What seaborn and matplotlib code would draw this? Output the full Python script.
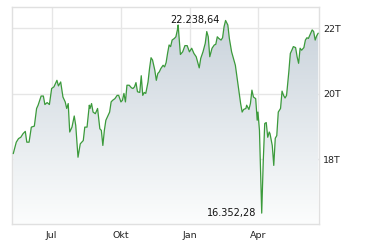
import numpy as np
import pandas as pd
import matplotlib
matplotlib.use("Agg")
import matplotlib.pyplot as plt
import matplotlib.dates as mdates
import seaborn as sns
from matplotlib.colors import LinearSegmentedColormap

dates = [
    "2024-05-11", "2024-05-15", "2024-05-18", "2024-05-21", "2024-05-24", "2024-05-27", "2024-05-29",
    "2024-06-01", "2024-06-04", "2024-06-08", "2024-06-11", "2024-06-13", "2024-06-17", "2024-06-20",
    "2024-06-22", "2024-06-25", "2024-06-28", "2024-07-01", "2024-07-04", "2024-07-08", "2024-07-10",
    "2024-07-13", "2024-07-16", "2024-07-19", "2024-07-21", "2024-07-23", "2024-07-25", "2024-07-28",
    "2024-07-31", "2024-08-02", "2024-08-05", "2024-08-08", "2024-08-12", "2024-08-14", "2024-08-17",
    "2024-08-20", "2024-08-21", "2024-08-23", "2024-08-25", "2024-08-28", "2024-08-31", "2024-09-03",
    "2024-09-05", "2024-09-07", "2024-09-09", "2024-09-11", "2024-09-14", "2024-09-16", "2024-09-18",
    "2024-09-20", "2024-09-23", "2024-09-26", "2024-09-28", "2024-10-01", "2024-10-03", "2024-10-05",
    "2024-10-07", "2024-10-09", "2024-10-12", "2024-10-15", "2024-10-17", "2024-10-19", "2024-10-21",
    "2024-10-23", "2024-10-26", "2024-10-28", "2024-10-30", "2024-11-01", "2024-11-03", "2024-11-06",
    "2024-11-08", "2024-11-10", "2024-11-12", "2024-11-15", "2024-11-17", "2024-11-19", "2024-11-21",
    "2024-11-23", "2024-11-26", "2024-11-28", "2024-11-30", "2024-12-02", "2024-12-04", "2024-12-06",
    "2024-12-08", "2024-12-11", "2024-12-13", "2024-12-15", "2024-12-16", "2024-12-19", "2024-12-22",
    "2024-12-25", "2024-12-28", "2024-12-31", "2025-01-03", "2025-01-06", "2025-01-09", "2025-01-13",
    "2025-01-15", "2025-01-18", "2025-01-21", "2025-01-23", "2025-01-25", "2025-01-27", "2025-01-30",
    "2025-02-02", "2025-02-04", "2025-02-06", "2025-02-08", "2025-02-11", "2025-02-13", "2025-02-15",
    "2025-02-17", "2025-02-20", "2025-02-22", "2025-02-25", "2025-02-28", "2025-03-02", "2025-03-05",
    "2025-03-07", "2025-03-09", "2025-03-11", "2025-03-13", "2025-03-16", "2025-03-17", "2025-03-20",
    "2025-03-22", "2025-03-24", "2025-03-26", "2025-03-29", "2025-03-31", "2025-04-01", "2025-04-03",
    "2025-04-06", "2025-04-08", "2025-04-10", "2025-04-12", "2025-04-14", "2025-04-16", "2025-04-17",
    "2025-04-20", "2025-04-22", "2025-04-24", "2025-04-26", "2025-04-28", "2025-05-01", "2025-05-03",
    "2025-05-05", "2025-05-07", "2025-05-09", "2025-05-12", "2025-05-14", "2025-05-16", "2025-05-18",
    "2025-05-21", "2025-05-23", "2025-05-25", "2025-05-27", "2025-05-29", "2025-06-01", "2025-06-03",
    "2025-06-05", "2025-06-07", "2025-06-10", "2025-06-12", "2025-06-14", "2025-06-16", "2025-06-18",
    "2025-06-20",
]

values = [
    18.17, 18.52, 18.63, 18.67, 18.78, 18.85, 18.52,
    18.52, 18.98, 19.01, 19.55, 19.65, 19.93, 19.93,
    19.67, 19.73, 19.67, 20.16, 20.21, 20.41, 20.24,
    20.36, 19.90, 19.75, 19.55, 19.70, 18.83, 18.98,
    19.32, 19.03, 18.06, 18.47, 18.57, 18.98, 18.98,
    19.65, 19.55, 19.70, 19.44, 19.39, 19.55, 18.93,
    18.88, 18.42, 18.88, 19.19, 19.34, 19.44, 19.75,
    19.80, 19.85, 19.95, 19.95, 19.75, 19.80, 20.01,
    19.75, 20.26, 20.26, 20.18, 20.16, 20.21, 20.34,
    20.06, 20.04, 20.55, 19.95, 20.04, 20.01, 20.36,
    20.77, 21.10, 21.03, 20.72, 20.41, 20.62, 20.67,
    20.77, 20.87, 20.82, 20.95, 21.24, 21.49, 21.44,
    21.64, 21.69, 21.74, 21.95, 22.10, 21.20, 21.28,
    21.47, 21.47, 21.28, 21.39, 21.23, 21.13, 20.79,
    21.08, 21.28, 21.54, 21.90, 21.74, 21.13, 21.39,
    21.49, 21.51, 21.74, 21.69, 21.64, 21.71, 22.05,
    22.23864, 22.10, 21.69, 21.28, 21.03, 20.87, 20.36,
    20.01, 19.70, 19.44, 19.52, 19.55, 19.65, 19.52,
    19.70, 20.11, 19.90, 19.85, 19.19, 19.44, 18.88,
    16.35228, 17.91, 19.09, 19.12, 18.67, 18.83, 18.78,
    18.42, 17.81, 18.64, 18.72, 19.44, 19.55, 20.08,
    19.95, 19.87, 19.95, 20.67, 21.23, 21.33, 21.44,
    21.41, 21.13, 20.93, 21.39, 21.33, 21.41, 21.64,
    21.71, 21.69, 21.85, 21.95, 21.90, 21.64, 21.77,
    21.85,
]

tick_dates = ["2024-07-01", "2024-10-01", "2025-01-01", "2025-04-01"]
tick_labels = ["Jul", "Okt", "Jan", "Apr"]
y_ticks = [18, 20, 22]
y_tick_labels = ["18T", "20T", "22T"]
max_label = "22.238,64"
min_label = "16.352,28"

df = pd.DataFrame({"date": pd.to_datetime(dates), "value": values})

sns.set_style("white")
plt.rcParams["font.family"] = ["DejaVu Sans"]

fig = plt.figure(figsize=(3.8, 2.5), dpi=100)
ax = fig.add_axes([12 / 380, 26 / 250, 307 / 380, 217 / 250])

x0 = pd.Timestamp("2024-05-09 08:00")
x1 = pd.Timestamp("2025-06-21 02:00")
y0, y1 = 16.02, 22.65
ax.set_xlim(x0, x1)
ax.set_ylim(y0, y1)

# gradient area fill
xn = mdates.date2num(df["date"])
poly = ax.fill_between(xn, df["value"], y0, facecolor="none", edgecolor="none")
cmap = LinearSegmentedColormap.from_list("g", ["#fcfdfd", "#c6d0d9"])
grad = np.linspace(0, 1, 256).reshape(-1, 1)
im = ax.imshow(grad, extent=[mdates.date2num(x0), mdates.date2num(x1), y0, y1],
               origin="lower", aspect="auto", cmap=cmap, zorder=1)
im.set_clip_path(poly.get_paths()[0], transform=ax.transData)

sns.lineplot(data=df, x="date", y="value", color="#3b9a3b", linewidth=0.9, ax=ax, zorder=3)

ax.set_xlabel("")
ax.set_ylabel("")
ax.set_xticks(pd.to_datetime(tick_dates))
ax.set_xticklabels(tick_labels)
ax.set_yticks(y_ticks)
ax.set_yticklabels(y_tick_labels)
ax.yaxis.tick_right()
ax.grid(True, color="#e6e6e6", linewidth=1, zorder=0)
ax.set_axisbelow(True)
for s in ax.spines.values():
    s.set_color("#e0e0e0")
    s.set_linewidth(1)
ax.tick_params(axis="x", length=2, color="#e0e0e0", pad=3, labelsize=6.8, labelcolor="#222222")
ax.tick_params(axis="y", length=0, pad=3, labelsize=6.8, labelcolor="#222222")

imax = df["value"].idxmax()
imin = df["value"].idxmin()
ax.annotate(max_label, xy=(df["date"][imax], df["value"][imax]), xytext=(-4, 0),
            textcoords="offset points", ha="right", va="center", fontsize=7, color="#111111", zorder=4)
ax.annotate(min_label, xy=(df["date"][imin], df["value"][imin]), xytext=(-4, 0),
            textcoords="offset points", ha="right", va="center", fontsize=7, color="#111111", zorder=4)

fig.savefig("out.png", dpi=100)
